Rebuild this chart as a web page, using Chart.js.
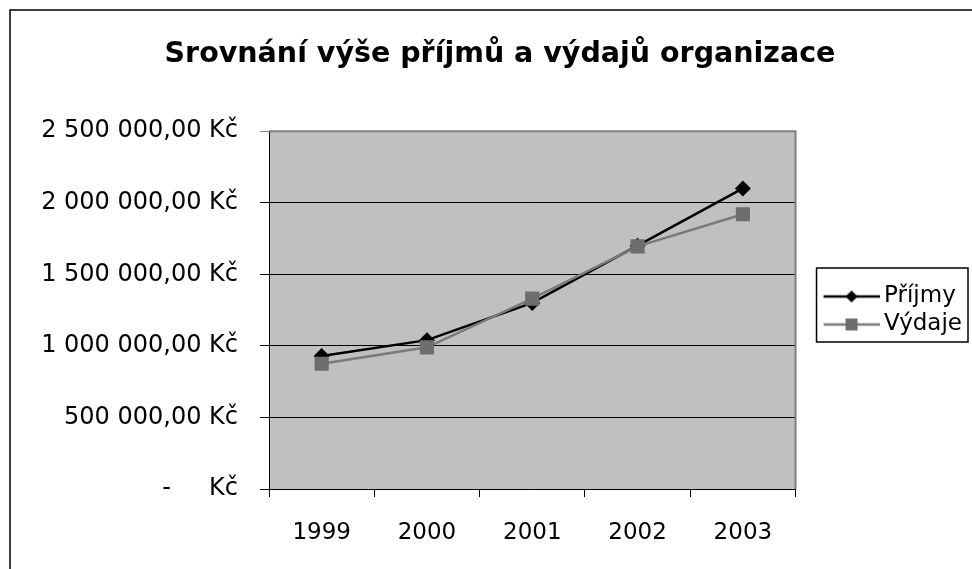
<!DOCTYPE html>
<html>
<head>
<meta charset="utf-8">
<script src="https://cdn.jsdelivr.net/npm/chart.js@4"></script>
<style>
    html, body { margin: 0; padding: 0; background: #fff; overflow: hidden; }
    #wrap { width: 972px; height: 569px; position: relative; }
</style>
</head>
<body>
<div id="wrap"><canvas id="chart"></canvas></div>
<script>
const years = ['1999', '2000', '2001', '2002', '2003'];
const prijmy = [930000, 1040000, 1300000, 1700000, 2100000];
const vydaje = [875000, 990000, 1330000, 1695000, 1920000];
const yTicks = [0, 500000, 1000000, 1500000, 2000000, 2500000];

const FONT = 'DejaVu Sans, Verdana, sans-serif';

function formatKc(value) {
    if (value === 0) {
        return '-\u00a0\u00a0\u00a0\u00a0\u00a0Kč';
    }
    const s = Math.round(value).toString().replace(/\B(?=(\d{3})+(?!\d))/g, ' ');
    return s + ',00 Kč';
}

// legend sample: short line with the marker in the middle
function legendSample(color, markerColor, style) {
    const c = document.createElement('canvas');
    c.width = 86;
    c.height = 16;
    const g = c.getContext('2d');
    g.strokeStyle = color;
    g.lineWidth = 2.5;
    g.beginPath();
    g.moveTo(30, 8);
    g.lineTo(86, 8);
    g.stroke();
    g.fillStyle = markerColor;
    g.beginPath();
    if (style === 'diamond') {
        g.moveTo(58, 2);
        g.lineTo(64, 8);
        g.lineTo(58, 14);
        g.lineTo(52, 8);
        g.closePath();
    } else {
        g.rect(52, 2, 12, 12);
    }
    g.fill();
    return c;
}

const frame = {
    id: 'frame',
    beforeDraw(chart) {
        const { ctx, chartArea: a } = chart;
        ctx.save();
        ctx.fillStyle = '#fff';
        ctx.fillRect(0, 0, chart.width, chart.height);
        ctx.strokeStyle = '#000';
        ctx.lineWidth = 1.5;
        ctx.strokeRect(10, 10, chart.width + 100, chart.height + 100);
        ctx.fillStyle = '#c0c0c0';
        ctx.fillRect(a.left, a.top, a.right - a.left, a.bottom - a.top);
        ctx.restore();
    },
    beforeDatasetsDraw(chart) {
        const { ctx, chartArea: a } = chart;
        ctx.save();
        ctx.strokeStyle = '#808080';
        ctx.lineWidth = 2;
        ctx.beginPath();
        ctx.moveTo(a.left, a.top);
        ctx.lineTo(a.right, a.top);
        ctx.lineTo(a.right, a.bottom);
        ctx.stroke();
        ctx.restore();
    },
    afterDraw(chart) {
        const boxes = chart.legend.legendHitBoxes;
        if (!boxes || !boxes.length) return;
        const { ctx } = chart;
        const first = boxes[0];
        const last = boxes[boxes.length - 1];
        const right = Math.max(...boxes.map(b => b.left + b.width));
        const left = first.left + 16;
        const top = first.top - 17;
        const bottom = last.top + last.height + 6;
        ctx.save();
        ctx.strokeStyle = '#000';
        ctx.lineWidth = 1.5;
        ctx.strokeRect(left, top, right + 6 - left, bottom - top);
        ctx.restore();
    }
};

const ctx = document.getElementById('chart');

new Chart(ctx, {
    type: 'line',
    data: {
        labels: years,
        datasets: [
            {
                label: 'Příjmy',
                data: prijmy,
                borderColor: '#000',
                backgroundColor: '#000',
                borderWidth: 2.5,
                pointStyle: 'rectRot',
                pointRadius: 8,
                pointBorderWidth: 0,
                pointBackgroundColor: '#000',
                tension: 0,
                order: 1
            },
            {
                label: 'Výdaje',
                data: vydaje,
                borderColor: '#7a7a7a',
                backgroundColor: '#6e6e6e',
                borderWidth: 2.5,
                pointStyle: 'rect',
                pointRadius: 10,
                pointBorderWidth: 0,
                pointBackgroundColor: '#6e6e6e',
                tension: 0,
                order: 0
            }
        ]
    },
    options: {
        responsive: true,
        maintainAspectRatio: false,
        animation: false,
        layout: {
            padding: { top: 20, left: 28, right: 0, bottom: 0 }
        },
        plugins: {
            title: {
                display: true,
                text: 'Srovnání výše příjmů a výdajů organizace',
                color: '#000',
                font: { family: FONT, size: 28.5, weight: 'bold' },
                padding: { top: 17, bottom: 60 }
            },
            legend: {
                display: true,
                position: 'right',
                title: {
                    display: true,
                    text: '',
                    font: { size: 10 },
                    padding: { top: 10, bottom: 10 }
                },
                labels: {
                    color: '#000',
                    font: { family: FONT, size: 23 },
                    usePointStyle: true,
                    pointStyleWidth: 72,
                    padding: 5,
                    sort: (a, b) => a.datasetIndex - b.datasetIndex,
                    generateLabels: (chart) => {
                        const styles = [
                            legendSample('#000', '#000', 'diamond'),
                            legendSample('#7a7a7a', '#6e6e6e', 'square')
                        ];
                        return chart.data.datasets.map((ds, i) => ({
                            text: ds.label,
                            fontColor: '#000',
                            pointStyle: styles[i],
                            datasetIndex: i,
                            hidden: false,
                            lineWidth: 0
                        }));
                    }
                }
            },
            tooltip: { enabled: false }
        },
        scales: {
            x: {
                offset: true,
                grid: {
                    offset: true,
                    drawOnChartArea: false,
                    drawTicks: true,
                    tickLength: 8,
                    color: '#000'
                },
                border: { display: true, color: '#000', width: 1 },
                ticks: {
                    color: '#000',
                    font: { family: FONT, size: 23 },
                    padding: 22,
                    maxRotation: 0
                },
                afterFit: (scale) => { scale.height = 80; }
            },
            y: {
                min: 0,
                max: 2500000,
                afterBuildTicks: (scale) => {
                    scale.ticks = yTicks.map(v => ({ value: v }));
                },
                grid: {
                    color: (c) => c.tick && c.tick.value === 2500000 ? '#808080' : '#000',
                    tickLength: 9,
                    lineWidth: 1
                },
                border: { display: true, color: '#000', width: 1 },
                ticks: {
                    color: '#000',
                    font: { family: FONT, size: 24 },
                    padding: 22,
                    callback: (value) => formatKc(value)
                },
                afterFit: (scale) => { scale.width = 241; }
            }
        }
    },
    plugins: [frame]
});
</script>
</body>
</html>
